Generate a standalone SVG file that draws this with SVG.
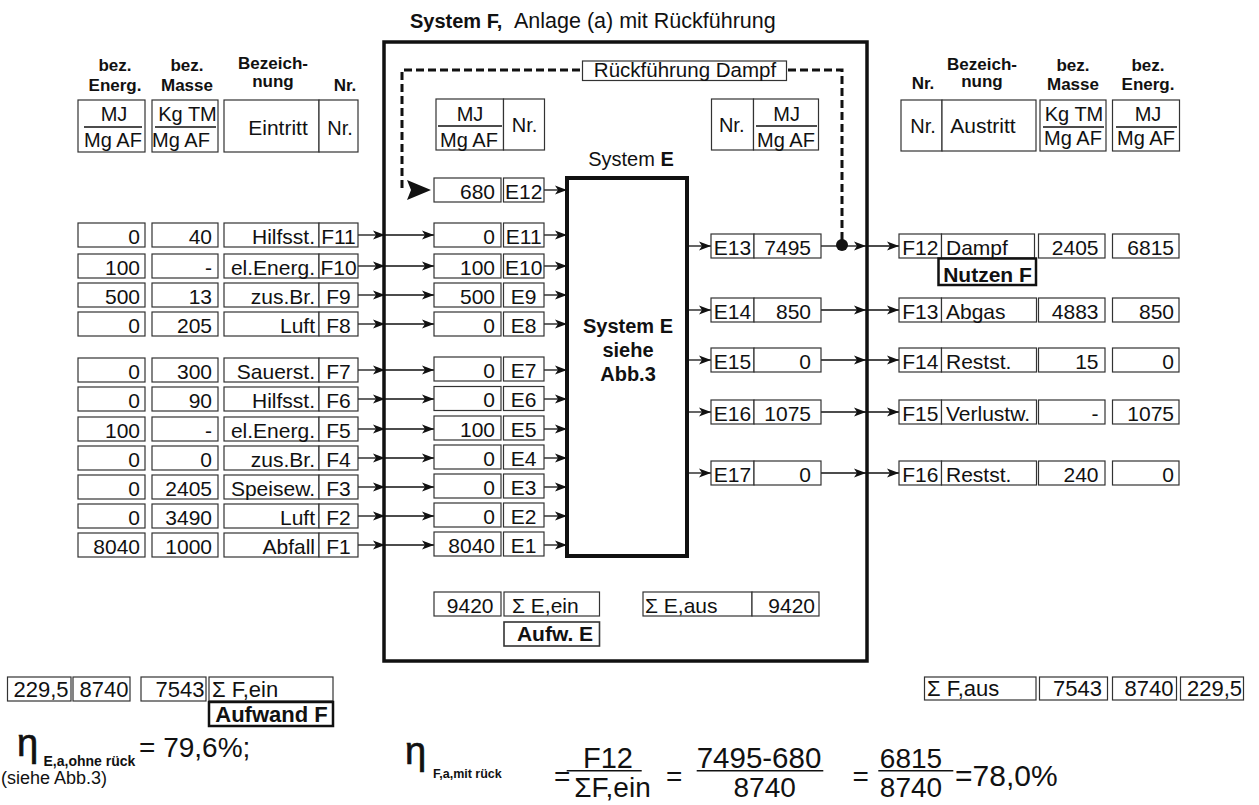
<svg xmlns="http://www.w3.org/2000/svg" width="1259" height="805" viewBox="0 0 1259 805">
<defs>
<style>
.b{fill:#fff;stroke:#333;stroke-width:1.2}
.bt{fill:#fff;stroke:#111;stroke-width:2.5}
.t{font-family:"Liberation Sans",Arial,sans-serif;font-size:21px;fill:#111}
.u{font-size:20px}
.s{font-size:22px}
.r{text-anchor:end}
.c{text-anchor:middle}
.bd{font-weight:bold}
.h{font-weight:bold;font-size:17px;text-anchor:middle}
.ln{stroke:#111;stroke-width:1.3;fill:none}
.a{stroke:#111;stroke-width:1.3;fill:none;marker-end:url(#ah)}
.fl{stroke:#111;stroke-width:1.5}
.eta{font-family:"Liberation Sans",Arial,sans-serif;font-size:38px;fill:#111;stroke:#111;stroke-width:0.7}
.f{font-size:28px}
</style>
<marker id="ah" markerUnits="userSpaceOnUse" markerWidth="12" markerHeight="10" refX="12" refY="5" orient="auto" viewBox="0 0 12 10"><path d="M0,0.5 L12,5 L0,9.5 L3,5 z" fill="#111"/></marker>
</defs>
<rect width="1259" height="805" fill="#fff"/>

<g id="title"><text class="t bd" x="410" y="27.5" style="font-size:20px">System F,</text><text class="t" x="514" y="27.5" style="font-size:21.5px">Anlage (a) mit Rückführung</text></g>

<g id="systemF"><rect x="384" y="42" width="483" height="619" fill="none" stroke="#111" stroke-width="3.5"/></g>

<g id="headers">
<text class="t h" x="115" y="70.5">bez.</text><text class="t h" x="115" y="91">Energ.</text>
<text class="t h" x="187" y="70.5">bez.</text><text class="t h" x="187" y="91">Masse</text>
<text class="t h" x="273" y="69">Bezeich-</text><text class="t h" x="273" y="87">nung</text>
<text class="t h" x="345" y="91">Nr.</text>
<text class="t h" x="923" y="89">Nr.</text>
<text class="t h" x="982" y="70">Bezeich-</text><text class="t h" x="982" y="87">nung</text>
<text class="t h" x="1073" y="70.5">bez.</text><text class="t h" x="1073" y="90">Masse</text>
<text class="t h" x="1148" y="70.5">bez.</text><text class="t h" x="1148" y="90">Energ.</text>
</g>

<g id="unitsLeft">
<rect class="b" x="78" y="100" width="67" height="52"/><text class="t u c" x="114" y="121">MJ</text><line class="ln" x1="84" y1="127" x2="142" y2="127"/><text class="t u c" x="113" y="147">Mg AF</text>
<rect class="b" x="152" y="100" width="66" height="52"/><text class="t u c" x="187.5" y="121">Kg TM</text><line class="ln" x1="155" y1="127" x2="216" y2="127"/><text class="t u c" x="181" y="147">Mg AF</text>
<rect class="b" x="224" y="100" width="95" height="52"/><text class="t c" x="278" y="135">Eintritt</text>
<rect class="b" x="319" y="100" width="39" height="52"/><text class="t u c" x="340" y="135">Nr.</text>
</g>
<g id="unitsMidIn">
<rect class="b" x="436" y="99" width="67.5" height="51"/><text class="t u c" x="470" y="121">MJ</text><line class="ln" x1="438" y1="126" x2="502" y2="126"/><text class="t u c" x="469" y="147">Mg AF</text>
<rect class="b" x="503.5" y="99" width="41" height="51"/><text class="t u c" x="524.5" y="132">Nr.</text>
</g>
<g id="unitsMidOut">
<rect class="b" x="711.5" y="99" width="42" height="51"/><text class="t u c" x="731.7" y="132">Nr.</text>
<rect class="b" x="753.5" y="99" width="65" height="51"/><text class="t u c" x="786.7" y="121">MJ</text><line class="ln" x1="756" y1="126" x2="817" y2="126"/><text class="t u c" x="786" y="147">Mg AF</text>
</g>
<g id="unitsRight">
<rect class="b" x="901" y="100" width="41" height="51"/><text class="t u c" x="923" y="133">Nr.</text>
<rect class="b" x="942" y="100" width="94" height="51"/><text class="t c" x="983" y="133">Austritt</text>
<rect class="b" x="1040" y="100" width="66" height="51"/><text class="t u c" x="1074" y="121">Kg TM</text><line class="ln" x1="1043" y1="127" x2="1104" y2="127"/><text class="t u c" x="1073" y="145">Mg AF</text>
<rect class="b" x="1112.5" y="100" width="67" height="51"/><text class="t u c" x="1148" y="121">MJ</text><line class="ln" x1="1116" y1="127" x2="1177" y2="127"/><text class="t u c" x="1146" y="145">Mg AF</text>
</g>

<g id="systemE">
<text class="t u c" x="631" y="166">System <tspan font-weight="bold">E</tspan></text>
<rect x="567" y="178" width="120" height="378" fill="#fff" stroke="#111" stroke-width="4"/>
<text class="t bd c" x="628" y="333" style="font-size:20px">System E</text>
<text class="t bd c" x="628" y="356.5" style="font-size:20px">siehe</text>
<text class="t bd c" x="628" y="380.5" style="font-size:20px">Abb.3</text>
</g>

<g id="connectors">
<path d="M402,188 V70 H842 V244" fill="none" stroke="#111" stroke-width="3" stroke-dasharray="8 4"/>
<path d="M407,180 L431,190 L407,200 L411,190 z" fill="#111"/>
<path class="a" d="M544,190 H567"/>
<path class="a" d="M358,235 H385"/><path class="a" d="M385,235 H434"/><path class="a" d="M544,235 H567"/>
<path class="a" d="M358,266 H385"/><path class="a" d="M385,266 H434"/><path class="a" d="M544,266 H567"/>
<path class="a" d="M358,295 H385"/><path class="a" d="M385,295 H434"/><path class="a" d="M544,295 H567"/>
<path class="a" d="M358,324 H385"/><path class="a" d="M385,324 H434"/><path class="a" d="M544,324 H567"/>
<path class="a" d="M358,370 H385"/><path class="a" d="M385,370 H434"/><path class="a" d="M544,370 H567"/>
<path class="a" d="M358,399 H385"/><path class="a" d="M385,399 H434"/><path class="a" d="M544,399 H567"/>
<path class="a" d="M358,429 H385"/><path class="a" d="M385,429 H434"/><path class="a" d="M544,429 H567"/>
<path class="a" d="M358,458 H385"/><path class="a" d="M385,458 H434"/><path class="a" d="M544,458 H567"/>
<path class="a" d="M358,487 H385"/><path class="a" d="M385,487 H434"/><path class="a" d="M544,487 H567"/>
<path class="a" d="M358,516 H385"/><path class="a" d="M385,516 H434"/><path class="a" d="M544,516 H567"/>
<path class="a" d="M358,545 H385"/><path class="a" d="M385,545 H434"/><path class="a" d="M544,545 H567"/>
<path class="a" d="M687,246 H711"/><path class="ln" d="M821,246 H842"/><path class="a" d="M842,246 H866"/><path class="a" d="M866,246 H899"/>
<circle cx="842" cy="245" r="6" fill="#111"/>
<path class="a" d="M687,310 H711"/><path class="a" d="M821,310 H866"/><path class="a" d="M866,310 H899"/>
<path class="a" d="M687,360 H711"/><path class="a" d="M821,360 H866"/><path class="a" d="M866,360 H899"/>
<path class="a" d="M687,412 H711"/><path class="a" d="M821,412 H866"/><path class="a" d="M866,412 H899"/>
<path class="a" d="M687,473 H711"/><path class="a" d="M821,473 H866"/><path class="a" d="M866,473 H899"/>
</g>

<g id="label-rueckfuehrung"><rect class="b" x="582.5" y="61" width="204" height="19.5"/><text class="t c" x="685" y="77" style="font-size:20.5px">Rückführung Dampf</text></g>

<g id="F11"><rect class="b" x="78" y="223" width="67" height="24"/><rect class="b" x="152" y="223" width="66" height="24"/><rect class="b" x="224" y="223" width="95" height="24"/><rect class="b" x="319" y="223" width="39" height="24"/>
<text class="t r" x="140" y="243.5">0</text><text class="t r" x="212" y="243.5">40</text><text class="t r" x="315" y="243.5">Hilfsst.</text><text class="t c" x="338.5" y="243.5">F11</text></g>
<g id="F10"><rect class="b" x="78" y="254" width="67" height="24"/><rect class="b" x="152" y="254" width="66" height="24"/><rect class="b" x="224" y="254" width="95" height="24"/><rect class="b" x="319" y="254" width="39" height="24"/>
<text class="t r" x="140" y="274.5">100</text><text class="t r" x="212" y="274.5">-</text><text class="t r" x="315" y="274.5">el.Energ.</text><text class="t c" x="338.5" y="274.5">F10</text></g>
<g id="F9"><rect class="b" x="78" y="283" width="67" height="24"/><rect class="b" x="152" y="283" width="66" height="24"/><rect class="b" x="224" y="283" width="95" height="24"/><rect class="b" x="319" y="283" width="39" height="24"/>
<text class="t r" x="140" y="303.5">500</text><text class="t r" x="212" y="303.5">13</text><text class="t r" x="315" y="303.5">zus.Br.</text><text class="t c" x="338.5" y="303.5">F9</text></g>
<g id="F8"><rect class="b" x="78" y="312" width="67" height="24"/><rect class="b" x="152" y="312" width="66" height="24"/><rect class="b" x="224" y="312" width="95" height="24"/><rect class="b" x="319" y="312" width="39" height="24"/>
<text class="t r" x="140" y="332.5">0</text><text class="t r" x="212" y="332.5">205</text><text class="t r" x="315" y="332.5">Luft</text><text class="t c" x="338.5" y="332.5">F8</text></g>
<g id="F7"><rect class="b" x="78" y="358" width="67" height="24"/><rect class="b" x="152" y="358" width="66" height="24"/><rect class="b" x="224" y="358" width="95" height="24"/><rect class="b" x="319" y="358" width="39" height="24"/>
<text class="t r" x="140" y="378.5">0</text><text class="t r" x="212" y="378.5">300</text><text class="t r" x="315" y="378.5">Sauerst.</text><text class="t c" x="338.5" y="378.5">F7</text></g>
<g id="F6"><rect class="b" x="78" y="387" width="67" height="24"/><rect class="b" x="152" y="387" width="66" height="24"/><rect class="b" x="224" y="387" width="95" height="24"/><rect class="b" x="319" y="387" width="39" height="24"/>
<text class="t r" x="140" y="407.5">0</text><text class="t r" x="212" y="407.5">90</text><text class="t r" x="315" y="407.5">Hilfsst.</text><text class="t c" x="338.5" y="407.5">F6</text></g>
<g id="F5"><rect class="b" x="78" y="417" width="67" height="24"/><rect class="b" x="152" y="417" width="66" height="24"/><rect class="b" x="224" y="417" width="95" height="24"/><rect class="b" x="319" y="417" width="39" height="24"/>
<text class="t r" x="140" y="437.5">100</text><text class="t r" x="212" y="437.5">-</text><text class="t r" x="315" y="437.5">el.Energ.</text><text class="t c" x="338.5" y="437.5">F5</text></g>
<g id="F4"><rect class="b" x="78" y="446" width="67" height="24"/><rect class="b" x="152" y="446" width="66" height="24"/><rect class="b" x="224" y="446" width="95" height="24"/><rect class="b" x="319" y="446" width="39" height="24"/>
<text class="t r" x="140" y="466.5">0</text><text class="t r" x="212" y="466.5">0</text><text class="t r" x="315" y="466.5">zus.Br.</text><text class="t c" x="338.5" y="466.5">F4</text></g>
<g id="F3"><rect class="b" x="78" y="475" width="67" height="24"/><rect class="b" x="152" y="475" width="66" height="24"/><rect class="b" x="224" y="475" width="95" height="24"/><rect class="b" x="319" y="475" width="39" height="24"/>
<text class="t r" x="140" y="495.5">0</text><text class="t r" x="212" y="495.5">2405</text><text class="t r" x="315" y="495.5">Speisew.</text><text class="t c" x="338.5" y="495.5">F3</text></g>
<g id="F2"><rect class="b" x="78" y="504" width="67" height="24"/><rect class="b" x="152" y="504" width="66" height="24"/><rect class="b" x="224" y="504" width="95" height="24"/><rect class="b" x="319" y="504" width="39" height="24"/>
<text class="t r" x="140" y="524.5">0</text><text class="t r" x="212" y="524.5">3490</text><text class="t r" x="315" y="524.5">Luft</text><text class="t c" x="338.5" y="524.5">F2</text></g>
<g id="F1"><rect class="b" x="78" y="533" width="67" height="24"/><rect class="b" x="152" y="533" width="66" height="24"/><rect class="b" x="224" y="533" width="95" height="24"/><rect class="b" x="319" y="533" width="39" height="24"/>
<text class="t r" x="140" y="553.5">8040</text><text class="t r" x="212" y="553.5">1000</text><text class="t r" x="315" y="553.5">Abfall</text><text class="t c" x="338.5" y="553.5">F1</text></g>

<g id="E12"><rect class="b" x="434" y="178" width="67" height="24"/><rect class="b" x="503.5" y="178" width="40.5" height="24"/><text class="t r" x="495" y="198.5">680</text><text class="t c" x="523.7" y="198.5">E12</text></g>
<g id="E11"><rect class="b" x="434" y="223" width="67" height="24"/><rect class="b" x="503.5" y="223" width="40.5" height="24"/><text class="t r" x="495" y="243.5">0</text><text class="t c" x="523.7" y="243.5">E11</text></g>
<g id="E10"><rect class="b" x="434" y="254" width="67" height="24"/><rect class="b" x="503.5" y="254" width="40.5" height="24"/><text class="t r" x="495" y="274.5">100</text><text class="t c" x="523.7" y="274.5">E10</text></g>
<g id="E9"><rect class="b" x="434" y="283" width="67" height="24"/><rect class="b" x="503.5" y="283" width="40.5" height="24"/><text class="t r" x="495" y="303.5">500</text><text class="t c" x="523.7" y="303.5">E9</text></g>
<g id="E8"><rect class="b" x="434" y="312" width="67" height="24"/><rect class="b" x="503.5" y="312" width="40.5" height="24"/><text class="t r" x="495" y="332.5">0</text><text class="t c" x="523.7" y="332.5">E8</text></g>
<g id="E7"><rect class="b" x="434" y="357" width="67" height="24"/><rect class="b" x="503.5" y="357" width="40.5" height="24"/><text class="t r" x="495" y="377.5">0</text><text class="t c" x="523.7" y="377.5">E7</text></g>
<g id="E6"><rect class="b" x="434" y="386.5" width="67" height="24"/><rect class="b" x="503.5" y="386.5" width="40.5" height="24"/><text class="t r" x="495" y="407">0</text><text class="t c" x="523.7" y="407">E6</text></g>
<g id="E5"><rect class="b" x="434" y="416" width="67" height="24"/><rect class="b" x="503.5" y="416" width="40.5" height="24"/><text class="t r" x="495" y="436.5">100</text><text class="t c" x="523.7" y="436.5">E5</text></g>
<g id="E4"><rect class="b" x="434" y="445" width="67" height="24"/><rect class="b" x="503.5" y="445" width="40.5" height="24"/><text class="t r" x="495" y="465.5">0</text><text class="t c" x="523.7" y="465.5">E4</text></g>
<g id="E3"><rect class="b" x="434" y="474" width="67" height="24"/><rect class="b" x="503.5" y="474" width="40.5" height="24"/><text class="t r" x="495" y="494.5">0</text><text class="t c" x="523.7" y="494.5">E3</text></g>
<g id="E2"><rect class="b" x="434" y="503" width="67" height="24"/><rect class="b" x="503.5" y="503" width="40.5" height="24"/><text class="t r" x="495" y="523.5">0</text><text class="t c" x="523.7" y="523.5">E2</text></g>
<g id="E1"><rect class="b" x="434" y="532" width="67" height="24"/><rect class="b" x="503.5" y="532" width="40.5" height="24"/><text class="t r" x="495" y="552.5">8040</text><text class="t c" x="523.7" y="552.5">E1</text></g>

<g id="E13"><rect class="b" x="711" y="234" width="43" height="24"/><rect class="b" x="754" y="234" width="67" height="24"/><text class="t c" x="732.5" y="254.5">E13</text><text class="t r" x="811" y="254.5">7495</text></g>
<g id="E14"><rect class="b" x="711" y="298" width="43" height="24"/><rect class="b" x="754" y="298" width="67" height="24"/><text class="t c" x="732.5" y="318.5">E14</text><text class="t r" x="811" y="318.5">850</text></g>
<g id="E15"><rect class="b" x="711" y="348" width="43" height="24"/><rect class="b" x="754" y="348" width="67" height="24"/><text class="t c" x="732.5" y="368.5">E15</text><text class="t r" x="811" y="368.5">0</text></g>
<g id="E16"><rect class="b" x="711" y="400" width="43" height="24"/><rect class="b" x="754" y="400" width="67" height="24"/><text class="t c" x="732.5" y="420.5">E16</text><text class="t r" x="811" y="420.5">1075</text></g>
<g id="E17"><rect class="b" x="711" y="461" width="43" height="24"/><rect class="b" x="754" y="461" width="67" height="24"/><text class="t c" x="732.5" y="481.5">E17</text><text class="t r" x="811" y="481.5">0</text></g>

<g id="F12"><rect class="b" x="899" y="234" width="42.5" height="24"/><rect class="b" x="941.5" y="234" width="93" height="24"/><rect class="b" x="1038.5" y="234" width="66.5" height="24"/><rect class="b" x="1112.5" y="234" width="66.5" height="24"/>
<text class="t c" x="920.3" y="254.5">F12</text><text class="t" x="946" y="254.5">Dampf</text><text class="t r" x="1098.5" y="254.5">2405</text><text class="t r" x="1174" y="254.5">6815</text></g>
<g id="nutzenF"><rect class="bt" x="938.5" y="258.5" width="97.5" height="26.5"/><text class="t bd c" x="987.5" y="281.5">Nutzen F</text></g>
<g id="F13"><rect class="b" x="899" y="298" width="42.5" height="24"/><rect class="b" x="941.5" y="298" width="95" height="24"/><rect class="b" x="1038.5" y="298" width="66.5" height="24"/><rect class="b" x="1112.5" y="298" width="66.5" height="24"/>
<text class="t c" x="920.3" y="318.5">F13</text><text class="t" x="946" y="318.5">Abgas</text><text class="t r" x="1098.5" y="318.5">4883</text><text class="t r" x="1174" y="318.5">850</text></g>
<g id="F14"><rect class="b" x="899" y="348" width="42.5" height="24"/><rect class="b" x="941.5" y="348" width="95" height="24"/><rect class="b" x="1038.5" y="348" width="66.5" height="24"/><rect class="b" x="1112.5" y="348" width="66.5" height="24"/>
<text class="t c" x="920.3" y="368.5">F14</text><text class="t" x="946" y="368.5">Restst.</text><text class="t r" x="1098.5" y="368.5">15</text><text class="t r" x="1174" y="368.5">0</text></g>
<g id="F15"><rect class="b" x="899" y="400" width="42.5" height="24"/><rect class="b" x="941.5" y="400" width="95" height="24"/><rect class="b" x="1038.5" y="400" width="66.5" height="24"/><rect class="b" x="1112.5" y="400" width="66.5" height="24"/>
<text class="t c" x="920.3" y="420.5">F15</text><text class="t" x="946" y="420.5">Verlustw.</text><text class="t r" x="1098.5" y="420.5">-</text><text class="t r" x="1174" y="420.5">1075</text></g>
<g id="F16"><rect class="b" x="899" y="461" width="42.5" height="24"/><rect class="b" x="941.5" y="461" width="95" height="24"/><rect class="b" x="1038.5" y="461" width="66.5" height="24"/><rect class="b" x="1112.5" y="461" width="66.5" height="24"/>
<text class="t c" x="920.3" y="481.5">F16</text><text class="t" x="946" y="481.5">Restst.</text><text class="t r" x="1098.5" y="481.5">240</text><text class="t r" x="1174" y="481.5">0</text></g>

<g id="sumE">
<rect class="b" x="434" y="592" width="67" height="24"/><text class="t r" x="493.5" y="612.5">9420</text>
<rect class="b" x="504" y="592" width="95.5" height="24"/><text class="t" x="512" y="612.5">Σ E,ein</text>
<rect class="b" x="504" y="622" width="95.5" height="24" style="stroke-width:1.6"/><text class="t bd c" x="555" y="641">Aufw. E</text>
<rect class="b" x="643" y="592" width="109" height="24"/><text class="t" x="645" y="612.5">Σ E,aus</text>
<rect class="b" x="752" y="592" width="67" height="24"/><text class="t r" x="815" y="612.5">9420</text>
</g>

<g id="sumFein">
<rect class="b" x="7.5" y="677" width="63.5" height="24"/><text class="t s r" x="68.5" y="696.5">229,5</text>
<rect class="b" x="73" y="677" width="57" height="24"/><text class="t s r" x="128.5" y="696.5">8740</text>
<rect class="b" x="141" y="677" width="65" height="24"/><text class="t s r" x="204.5" y="696.5">7543</text>
<rect class="b" x="209" y="677" width="124" height="24"/><text class="t s" x="212" y="696.5">Σ F,ein</text>
<rect class="bt" x="209" y="702" width="124" height="24"/><text class="t s bd c" x="271.5" y="722">Aufwand F</text>
</g>
<g id="sumFaus">
<rect class="b" x="924.5" y="677" width="111.5" height="23"/><text class="t s" x="927" y="695.5">Σ F,aus</text>
<rect class="b" x="1039.5" y="677" width="68" height="23"/><text class="t s r" x="1102" y="695.5">7543</text>
<rect class="b" x="1112.5" y="677" width="64" height="23"/><text class="t s r" x="1173.5" y="695.5">8740</text>
<rect class="b" x="1180.5" y="677" width="63" height="23"/><text class="t s r" x="1242" y="695.5">229,5</text>
</g>

<g id="formulaE">
<text class="eta" x="17" y="756">η</text>
<text class="t bd" x="43.5" y="766" style="font-size:14px">E,a,ohne rück</text>
<text class="t" x="139" y="757" style="font-size:28px">= 79,6%;</text>
<text class="t" x="1" y="784" style="font-size:18px">(siehe Abb.3)</text>
</g>
<g id="formulaF">
<text class="eta" x="405" y="764">η</text>
<text class="t bd" x="433" y="778" style="font-size:12.5px">F,a,mit rück</text>
<text class="t f" x="554" y="786">=</text>
<text class="t f c" x="608" y="768" style="font-size:29px">F12</text>
<line class="fl" x1="566.7" y1="770.7" x2="641.7" y2="770.7"/>
<text class="t f c" x="612.5" y="796.5">ΣF,ein</text>
<text class="t f" x="666" y="786">=</text>
<text class="t f c" x="759" y="768" style="font-size:29.5px">7495-680</text>
<line class="fl" x1="696.7" y1="770.7" x2="823.3" y2="770.7"/>
<text class="t f c" x="764.7" y="796.5">8740</text>
<text class="t f" x="852.5" y="786">=</text>
<text class="t f c" x="911" y="768">6815</text>
<line class="fl" x1="878.3" y1="770.7" x2="953.3" y2="770.7"/>
<text class="t f c" x="911" y="796.5">8740</text>
<text class="t f" x="955" y="786" style="font-size:30px">=78,0%</text>
</g>
</svg>
